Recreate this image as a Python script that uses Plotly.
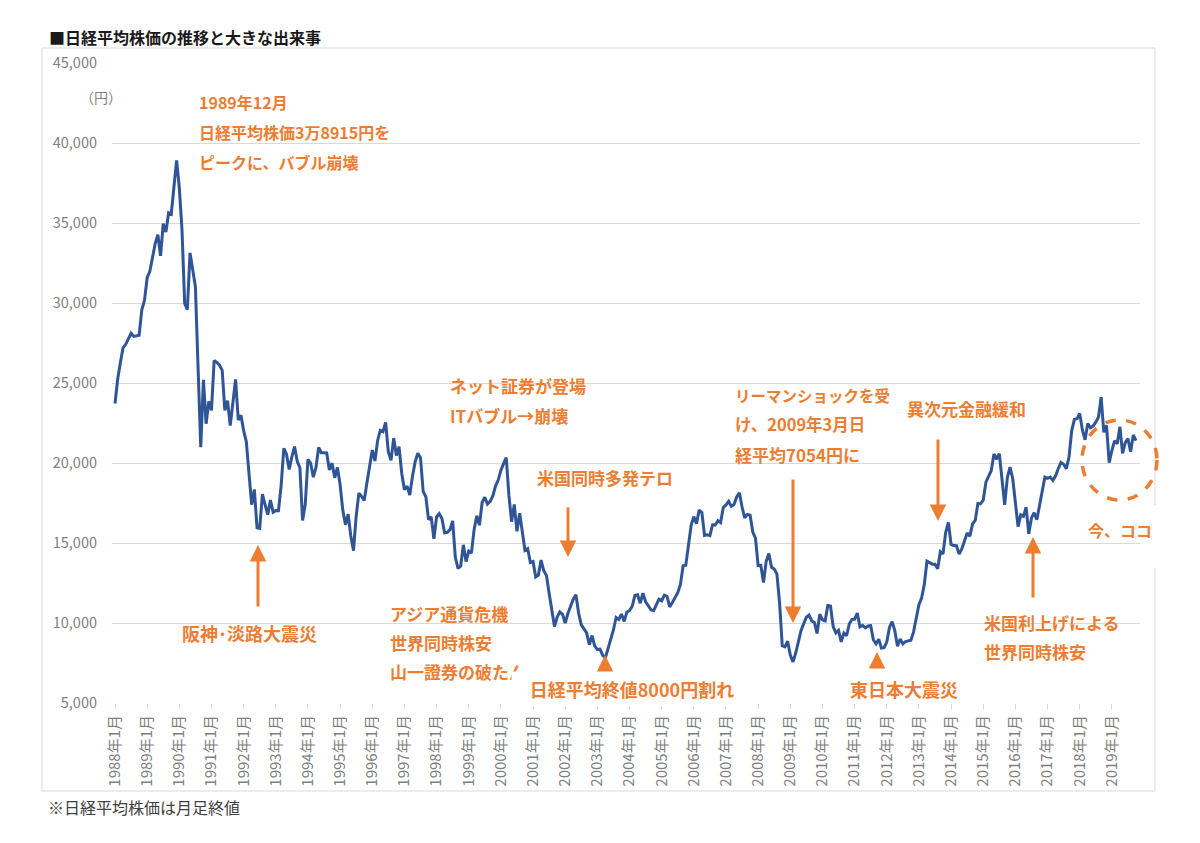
import plotly.graph_objects as go

# ---------------- data (monthly closes, yen) ----------------
close_1988_1999 = [
    23719, 25243, 26260, 27198, 27417, 27769, 28105, 27911, 27924, 27981, 29579, 30159,
    31581, 31985, 32839, 33713, 34267, 32949, 34954, 34431, 35637, 35549, 37269, 38916,
    37189, 34592, 29980, 29585, 33131, 31940, 31036, 25978, 20984, 25194, 22454, 23849,
    23293, 26409, 26292, 26111, 25790, 23291, 23900, 22336, 23916, 25222, 22687, 22984,
    22023, 21339, 19346, 17391, 18348, 15952, 15910, 18061, 17399, 16767, 17684, 16925,
    17024, 17023, 18591, 20919, 20552, 19590, 20380, 21027, 20106, 19703, 16408, 17417,
    20229, 19997, 19112, 19725, 20974, 20644, 20642, 20629, 19564, 19990, 19076, 19723,
    18650, 17054, 16140, 16807, 15437, 14518, 16678, 18117, 17913, 17655, 18744, 19868,
    20813, 20125, 21407, 22041, 21956, 22531, 20693, 20167, 21556, 20467, 21020, 19361,
    18330, 18557, 18003, 19151, 20069, 20605, 20331, 18229, 17888, 16459, 16636, 15259,
    16628, 16832, 16527, 15641, 15671, 15831, 16379, 14108, 13406, 13565, 14884, 13842,
    14499, 14368, 15837, 16701, 16112, 17530, 17862, 17437, 17606, 17942, 18558, 18934,
]
close_2000_2009 = [
    19540, 19960, 20337, 17974, 16332, 17411, 15727, 16861, 15747, 14539, 14649, 13786,
    13844, 12884, 12999, 13934, 13262, 12969, 11861, 10714, 9775, 10367, 10697, 10543,
    9998, 10588, 11025, 11493, 11764, 10622, 9878, 9619, 9383, 8640, 9216, 8579,
    8340, 8363, 7973, 7831, 8425, 9083, 9563, 10344, 10219, 10560, 10101, 10677,
    10784, 11042, 11715, 11762, 11236, 11859, 11326, 11082, 10824, 10771, 11131, 11489,
    11388, 11741, 11669, 11009, 11277, 11584, 11900, 12414, 13574, 13607, 14872, 16111,
    16650, 16206, 17060, 16907, 15468, 15506, 15457, 16141, 16128, 16399, 16274, 17226,
    17383, 17604, 17288, 17400, 17876, 18138, 17249, 16569, 16786, 16738, 15681, 15308,
    13592, 13604, 12526, 13850, 14339, 13482, 13377, 13073, 11260, 8577, 8512, 8860,
    7994, 7568, 8110, 8828, 9523, 9958, 10357, 10493, 10133, 10035, 9346, 10546,
]
close_2010_2019 = [
    10198, 10126, 11090, 11057, 9769, 9383, 9537, 8824, 9369, 9202, 9937, 10229,
    10238, 10624, 9755, 9850, 9694, 9816, 9833, 8955, 8700, 8988, 8435, 8455,
    8803, 9723, 10084, 9521, 8543, 9007, 8695, 8840, 8870, 8928, 9446, 10395,
    11139, 11559, 12398, 13861, 13775, 13677, 13668, 13389, 14456, 14328, 15662, 16291,
    14915, 14841, 14828, 14304, 14632, 15162, 15621, 15425, 16174, 16414, 17460, 17451,
    17674, 18798, 19207, 19520, 20563, 20236, 20585, 18890, 17388, 19083, 19747, 19034,
    17518, 16027, 16759, 16666, 17235, 15576, 16569, 16887, 16450, 17425, 18308, 19114,
    19041, 19119, 18909, 19197, 19651, 20033, 19925, 19646, 20356, 22012, 22725, 22765,
    23098, 22068, 21454, 22468, 22202, 22305, 22554, 22865, 24120, 21920, 22351, 20015,
    20773, 21385, 21206, 22259, 20601, 21276, 21522, 20704, 21756, 21400,
]
nikkei_close = close_1988_1999 + close_2000_2009 + close_2010_2019

start_year = 1988
month_labels = [f"{start_year + i // 12}年{i % 12 + 1}月" for i in range(len(nikkei_close))]
tick_labels = [m for m in month_labels if m.endswith("年1月")]
y_ticks = [5000, 10000, 15000, 20000, 25000, 30000, 35000, 40000, 45000]

# ---------------- layout helpers ----------------
W, H = 1200, 843
PL, PR, PT, PB = 112, 1140, 63, 703
ORANGE = "#ED7D31"
BLUE = "#2F5597"
FONT = "Noto Sans CJK JP"


def fx(x):
    return (x - PL) / (PR - PL)


def fy(y):
    return (PB - y) / (PB - PT)


fig = go.Figure()
fig.add_trace(go.Scatter(
    x=month_labels, y=nikkei_close, mode="lines",
    line=dict(color=BLUE, width=3), hoverinfo="x+y", showlegend=False,
))

shapes = []
# outer chart frame
shapes.append(dict(type="rect", xref="paper", yref="paper",
                   x0=fx(42), x1=fx(1155), y0=fy(791), y1=fy(48),
                   line=dict(color="#d9d9d9", width=1), fillcolor="rgba(0,0,0,0)",
                   layer="below"))
# white text boxes (cover gridlines, below the line)
boxes = [
    (187, 443, 85, 178),
    (172, 345, 610, 655),
    (373, 547, 595, 699),
    (435, 597, 365, 432),
    (522, 693, 455, 500),
    (720, 893, 372, 476),
    (785, 1027, 672, 707),
    (965, 1120, 600, 672),
    (1060, 1162, 505, 568),
]
for x0, x1, y0, y1 in boxes:
    shapes.append(dict(type="rect", xref="paper", yref="paper",
                       x0=fx(x0), x1=fx(x1), y0=fy(y1), y1=fy(y0),
                       line=dict(width=0), fillcolor="white", layer="between"))
# dashed circle "今、ココ"
shapes.append(dict(type="circle", xref="paper", yref="paper",
                   x0=fx(1082), x1=fx(1157), y0=fy(500), y1=fy(420),
                   line=dict(color=ORANGE, width=3.5, dash="dash"), layer="above"))

ann = []


def text(x, y, s, size=17, color=ORANGE, weight="bold", anchor="left", **kw):
    ann.append(dict(xref="paper", yref="paper", x=fx(x), y=fy(y), text=s,
                    showarrow=False, xanchor=anchor, yanchor="middle",
                    font=dict(family=FONT, size=size, color=color, weight=weight), **kw))


def arrow(x, y_tip, y_tail):
    ann.append(dict(xref="paper", yref="paper", x=fx(x), y=fy(y_tip), text="",
                    showarrow=True, ax=0, ay=y_tail - y_tip, axref="pixel", ayref="pixel",
                    arrowhead=2, arrowsize=1.1, arrowwidth=3, arrowcolor=ORANGE, standoff=0))


# title, unit, footnote
text(47, 37, "■日経平均株価の推移と大きな出来事", size=16, color="#1a1a1a")
text(101, 97, "（円）", size=14, color="#7f7f7f", weight="normal", anchor="center")
text(46, 807, "※日経平均株価は月足終値", size=16, color="#404040", weight="normal")

# event annotations
text(197, 102, "1989年12月", size=16)
text(197, 132, "日経平均株価3万8915円を", size=16)
text(197, 162, "ピークに、バブル崩壊", size=16)

text(180, 633, "阪神･淡路大震災", size=18)
arrow(258, 545, 608)

text(388, 613, "アジア通貨危機")
text(388, 642, "世界同時株安")
text(388, 671, "山一證券の破たん")

text(448, 385, "ネット証券が登場")
text(448, 415, "ITバブル→崩壊")

text(535, 477, "米国同時多発テロ")
arrow(568, 557, 506)

# 8000円割れ box overlaps the end of the previous text
ann.append(dict(xref="paper", yref="paper", x=fx(632), y=fy(689), text="日経平均終値8000円割れ",
                showarrow=False, xanchor="center", yanchor="middle", width=240, height=34,
                bgcolor="white", borderpad=0,
                font=dict(family=FONT, size=18, color=ORANGE, weight="bold")))
arrow(605, 655, 669)

text(733, 395, "リーマンショックを受", size=15.5)
text(733, 424, "け、2009年3月日", size=16.5)
text(733, 454, "経平均7054円に", size=17)
arrow(793, 623, 478)

text(905, 408, "異次元金融緩和")
arrow(938, 521, 438)

text(848, 689, "東日本大震災", size=18)
arrow(877, 652, 666)

text(982, 622, "米国利上げによる")
text(982, 651, "世界同時株安")
arrow(1033, 537, 599)

text(1086, 530, "今、ココ", size=16)

fig.update_layout(
    width=W, height=H,
    margin=dict(l=PL, r=W - PR, t=PT, b=H - PB),
    paper_bgcolor="white", plot_bgcolor="white",
    font=dict(family=FONT, color="#7f7f7f"),
    shapes=shapes, annotations=ann,
    showlegend=False,
)
fig.update_xaxes(
    type="category", range=[-1.12, 382.5],
    tickmode="array", tickvals=tick_labels, ticktext=tick_labels,
    tickangle=-90, tickfont=dict(size=15, color="#7f7f7f", family=FONT),
    showgrid=False, showline=False, zeroline=False,
    ticks="outside", ticklen=5, tickcolor="#d9d9d9",
)
fig.update_yaxes(
    range=[5000, 45000], tickvals=y_ticks,
    ticktext=[f"{v:,}" for v in y_ticks],
    tickfont=dict(size=14.5, color="#7f7f7f", family=FONT),
    showgrid=True, gridcolor="#d9d9d9", gridwidth=1,
    zeroline=False, showline=False, ticks="", ticklabelstandoff=14,
)

fig.write_html("out.html")
